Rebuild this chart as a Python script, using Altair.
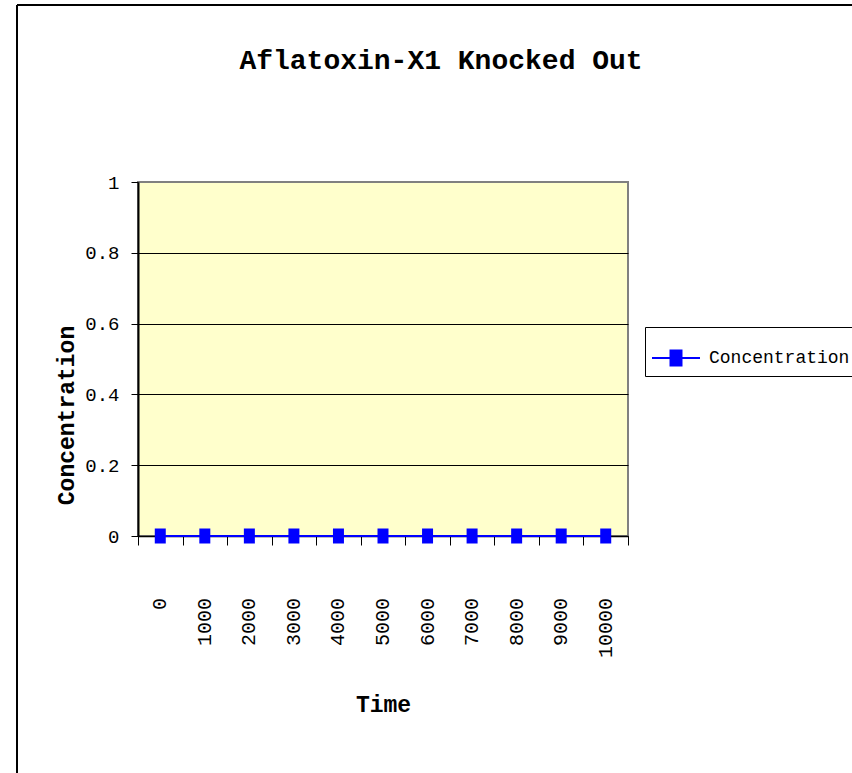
import altair as alt
import pandas as pd

# Sampled time points and measured concentration
time_points = [0, 1000, 2000, 3000, 4000, 5000, 6000, 7000, 8000, 9000, 10000]
concentration = [0, 0, 0, 0, 0, 0, 0, 0, 0, 0, 0]
time_labels = ["0", "1000", "2000", "3000", "4000", "5000", "6000", "7000", "8000", "9000", "10000"]
series_name = "Concentration"
chart_title = "Aflatoxin-X1 Knocked Out"
y_ticks = [0, 0.2, 0.4, 0.6, 0.8, 1]

df = pd.DataFrame({
    "Time": time_points,
    "Concentration": concentration,
    "label": time_labels,
    "series": [series_name] * len(time_points),
})

FONT = "Liberation Mono"
BLUE = "#0000FF"

# boundaries between categories carry the ticks, centres carry the labels
x_tick_values = list(range(-500, 11000, 1000))

# tall square marker, and legend symbol = line segment + marker
marker_path = "M-0.733,-1L0.733,-1L0.733,1L-0.733,1Z"
legend_path = "M-1,0L1,0M-0.229,-0.3125L0.229,-0.3125L0.229,0.3125L-0.229,0.3125Z"

x_scale = alt.Scale(domain=[-500, 10500], nice=False, zero=False)

x_enc = alt.X(
    "Time:Q",
    scale=x_scale,
    axis=alt.Axis(
        values=x_tick_values,
        labels=False,
        tickSize=9,
        tickColor="black",
        domainColor="black",
        domainWidth=1.5,
        grid=False,
        title="Time",
        titleFont=FONT,
        titleFontSize=23,
        titleFontWeight="bold",
        titleColor="black",
        titleY=168,
        titleBaseline="middle",
    ),
)

y_enc = alt.Y(
    "Concentration:Q",
    scale=alt.Scale(domain=[0, 1], nice=False),
    axis=alt.Axis(
        values=y_ticks,
        format="~g",
        labelFontSize=19,
        labelFont=FONT,
        labelColor="black",
        labelPadding=12,
        tickSize=7,
        tickColor="black",
        domainColor="black",
        domainWidth=2,
        grid=True,
        gridColor={"condition": {"test": "datum.value >= 1", "value": "#808080"}, "value": "black"},
        gridWidth=1,
        title="Concentration",
        titleFont=FONT,
        titleFontSize=23,
        titleFontWeight="bold",
        titleColor="black",
        titleX=-72,
        titleY=233,
        titleAlign="center",
        titleBaseline="middle",
    ),
)

line = alt.Chart(df).mark_line(color=BLUE, strokeWidth=2).encode(x=x_enc, y=y_enc)

points = alt.Chart(df).mark_point(
    shape=marker_path, size=225, filled=True, opacity=1
).encode(
    x="Time:Q",
    y="Concentration:Q",
    color=alt.Color(
        "series:N",
        scale=alt.Scale(range=[BLUE]),
        legend=alt.Legend(
            title=None,
            orient="none",
            legendX=507,
            legendY=145,
            symbolType=legend_path,
            symbolSize=2304,
            symbolFillColor=BLUE,
            symbolStrokeColor=BLUE,
            symbolStrokeWidth=2,
            labelFont=FONT,
            labelFontSize=18,
            labelColor="black",
            labelOffset=8,
            padding=6,
            strokeColor="black",
            fillColor="white",
        ),
    ),
)

# category labels under the axis, rotated to read bottom-to-top
x_labels = alt.Chart(df).mark_text(
    font=FONT, fontSize=20, color="black", angle=270,
    align="right", baseline="middle",
).encode(x="Time:Q", y=alt.value(416), text="label:N")

# outer chart frame (top and left edges)
frame_left = alt.Chart(df).mark_rule(color="black", strokeWidth=2).encode(
    x=alt.value(-121), y=alt.value(-177), y2=alt.value(620)
)
frame_top = alt.Chart(df).mark_rule(color="black", strokeWidth=2).encode(
    x=alt.value(-121), x2=alt.value(740), y=alt.value(-177)
)

# chart heading, centred over the chart body
heading = alt.Chart(pd.DataFrame({"t": [chart_title]})).mark_text(
    font=FONT, fontSize=28, fontWeight="bold", color="black",
    align="center", baseline="alphabetic",
).encode(text="t:N", x=alt.value(303), y=alt.value(-113))

chart = alt.layer(frame_left, frame_top, heading, line, points, x_labels).properties(
    width=490,
    height=354,
    padding={"left": 138, "top": 182, "right": 224, "bottom": 237},
    autosize=alt.AutoSizeParams(type="none"),
    background="white",
).configure_view(
    fill="#FFFFCC", stroke="#808080", strokeWidth=2
)

chart.save("out.html", embed_options={"renderer": "svg", "actions": False})
